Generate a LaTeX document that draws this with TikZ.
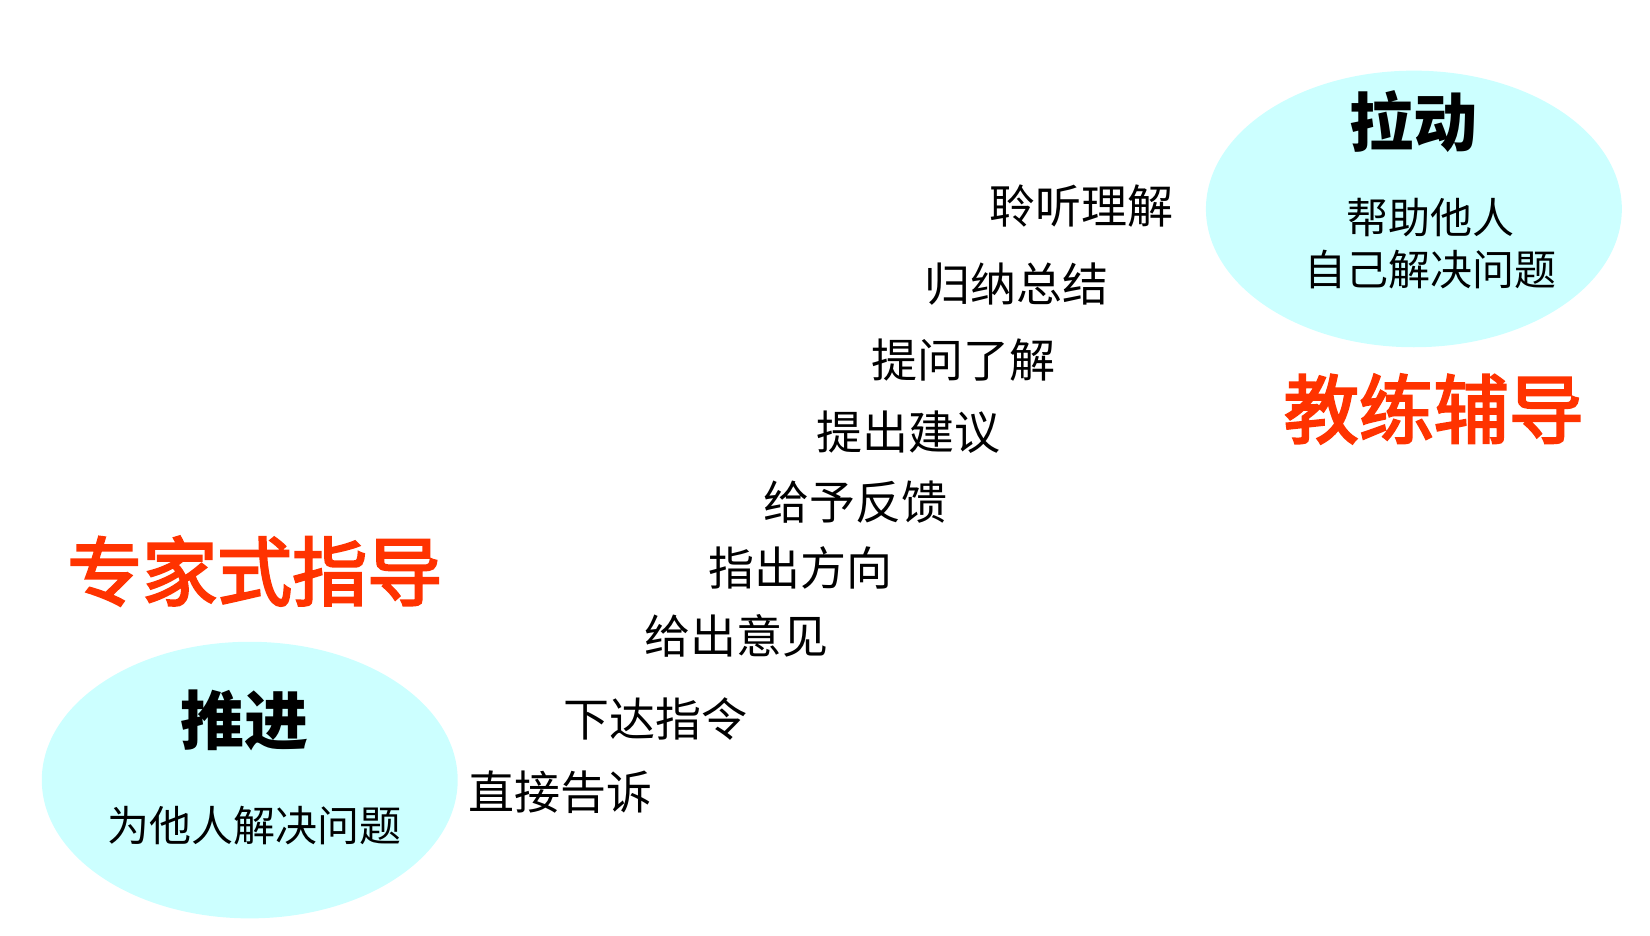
\documentclass[tikz,border=0pt]{standalone}
\usepackage{fontspec}
\newfontfamily\cjk{Noto Sans CJK SC}
\newfontfamily\cjkmid[FakeBold=3]{Noto Sans CJK SC}
\definecolor{ellfill}{HTML}{CCFFFF}
\definecolor{titlered}{HTML}{FF3300}
\tikzset{
  stair/.style={font=\cjk\fontsize{46}{52}\selectfont, inner sep=0pt, anchor=center},
  head/.style={font=\cjk\bfseries\fontsize{64}{70}\selectfont, inner sep=0pt},
  sub/.style={font=\cjk\fontsize{42}{52}\selectfont, inner sep=0pt, align=center},
  title/.style={font=\cjkmid\fontsize{75}{80}\selectfont, text=titlered, inner sep=0pt}
}
\begin{document}
\begin{tikzpicture}[x=1pt,y=-1pt]
\useasboundingbox (0,0) rectangle (1650,936);
\begin{scope}[scale=0.995]
% ellipses
\fill[ellfill] (1421,210) ellipse [x radius=209, y radius=139];
\fill[ellfill] (251,784) ellipse [x radius=209, y radius=139];
% right
\node[head] (la) at (1421,122) {拉动};
\node[sub] (bang) at (1438,245) {帮助他人\\自己解决问题};
\node[title] (jiao) at (1441,411) {教练辅导};
% left
\node[title] (zhuan) at (256,574) {专家式指导};
\node[head] (tui) at (246,724) {推进};
\node[sub] (wei) at (256,830) {为他人解决问题};
% stairs
\node[stair] (s1) at (1087,207) {聆听理解};
\node[stair] (s2) at (1022,286) {归纳总结};
\node[stair] (s3) at (968,362) {提问了解};
\node[stair] (s4) at (913,434) {提出建议};
\node[stair] (s5) at (860,505) {给予反馈};
\node[stair] (s6) at (805,571) {指出方向};
\node[stair] (s7) at (740,639) {给出意见};
\node[stair] (s8) at (659,723) {下达指令};
\node[stair] (s9) at (563,796) {直接告诉};
\end{scope}
\end{tikzpicture}
\end{document}
